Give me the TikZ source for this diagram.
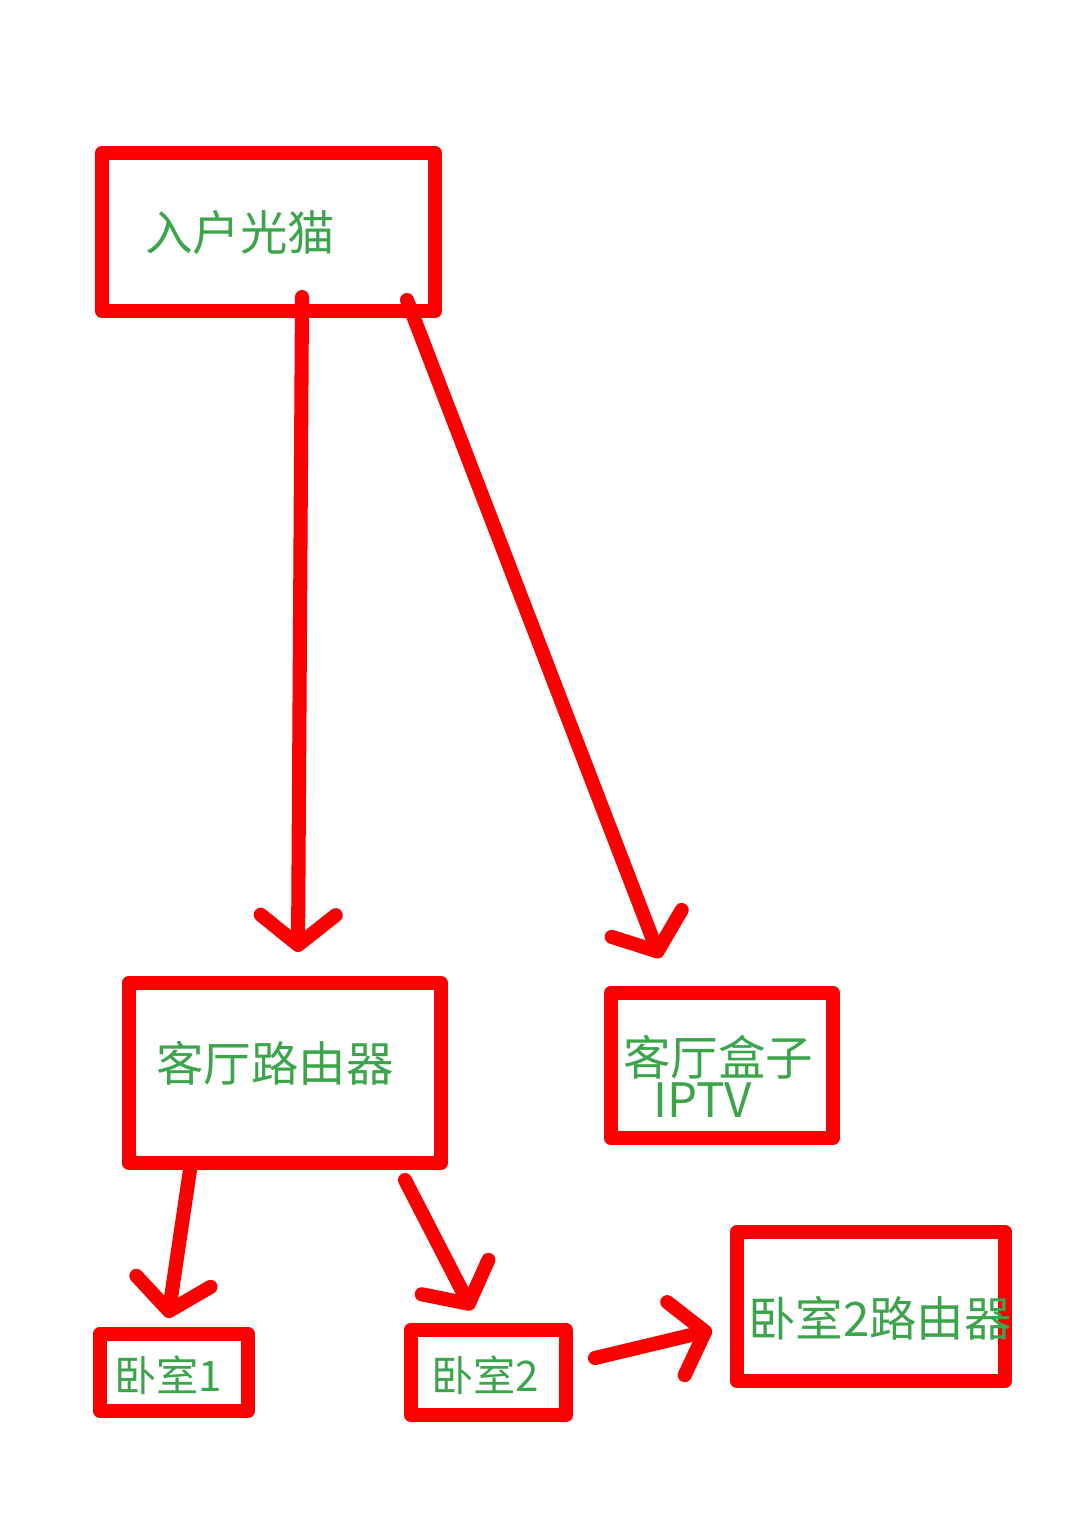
\documentclass[tikz,border=0pt]{standalone}
\usepackage{fontspec}
\newfontfamily\cjk{Noto Sans CJK SC}
\usetikzlibrary{arrows.meta}
\definecolor{rd}{RGB}{250,0,0}
\definecolor{gr}{RGB}{60,165,75}
\tikzset{
 box/.style={draw=rd,line width=4pt,line join=round,inner sep=0pt,rectangle},
 lbl/.style={text=gr,font=\cjk\fontsize{13.5}{15}\selectfont,inner sep=0pt},
 slbl/.style={text=gr,font=\cjk\fontsize{12}{13}\selectfont,inner sep=0pt},
 conn/.style={draw=rd,line width=4pt,line cap=round,line join=round,-{Straight Barb[length=0.3cm,width=0.75cm,line width=4pt,round]}}
}
\begin{document}
\begin{tikzpicture}[x=0.01cm,y=-0.01cm]
\useasboundingbox (0,0) rectangle (1080,1531);
\fill[white] (0,0) rectangle (1080,1531);
\node[box,minimum width=3.33cm,minimum height=1.58cm] (modem) at (268.5,232) {};
\node[lbl] (tmodem) at (240,232) {入户光猫};
\node[box,minimum width=3.12cm,minimum height=1.80cm] (router) at (285,1073) {};
\node[lbl] (trouter) at (275,1063) {客厅路由器};
\node[box,minimum width=2.22cm,minimum height=1.45cm] (iptv) at (722,1065.5) {};
\node[lbl,align=center] (tiptv) at (718,1076) {客厅盒子\\[-3pt]\hspace*{-0.3cm}IPTV};
\node[box,minimum width=1.48cm,minimum height=0.77cm] (b1) at (174,1372.5) {};
\node[slbl] (tb1) at (168,1375) {卧室1};
\node[box,minimum width=1.55cm,minimum height=0.85cm] (b2) at (488.5,1372.5) {};
\node[slbl] (tb2) at (485,1375) {卧室2};
\node[box,minimum width=2.68cm,minimum height=1.49cm] (b2r) at (871,1306.5) {};
\node[lbl] (tb2r) at (880,1318) {卧室2路由器};
\coordinate (s1) at (302,297); \coordinate (e1) at (298,952);
\coordinate (s2) at (407,300); \coordinate (e2) at (660,958);
\coordinate (s3) at (190,1170); \coordinate (e3) at (168,1318);
\coordinate (s4) at (405,1180); \coordinate (e4) at (472,1310);
\coordinate (s5) at (595,1358); \coordinate (e5) at (712,1330);
\draw[conn] (s1) -- (e1);
\draw[conn] (s2) -- (e2);
\draw[conn] (s3) -- (e3);
\draw[conn] (s4) -- (e4);
\draw[conn] (s5) -- (e5);
\end{tikzpicture}
\end{document}
